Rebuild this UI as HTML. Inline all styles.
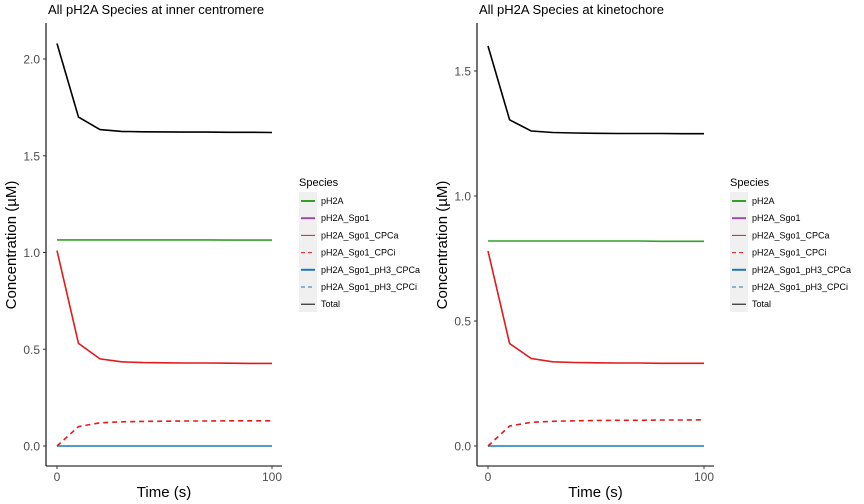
<!DOCTYPE html>
<html><head><meta charset="utf-8"><style>
body{margin:0;background:#fff;}
svg{display:block;font-family:"Liberation Sans",sans-serif;}
</style></head><body>
<svg id="c" width="864" height="504" xmlns="http://www.w3.org/2000/svg"></svg>
<script>
const times=[0,10,20,30,40,50,60,70,80,90,100];
const leftTotal=[2.08,1.70,1.635,1.626,1.624,1.623,1.622,1.622,1.621,1.621,1.62];
const leftCPCa=[1.01,0.53,0.45,0.435,0.431,0.430,0.429,0.429,0.428,0.427,0.427];
const leftCPCi=[0,0.10,0.12,0.125,0.127,0.128,0.129,0.129,0.130,0.130,0.130];
const leftPH2A=[1.065,1.065,1.065,1.065,1.065,1.065,1.065,1.065,1.064,1.064,1.064];
const leftPH3=[0,0,0,0,0,0,0,0,0,0,0];
const rightTotal=[1.60,1.305,1.26,1.254,1.252,1.251,1.25,1.25,1.25,1.249,1.249];
const rightCPCa=[0.78,0.41,0.35,0.337,0.334,0.333,0.332,0.332,0.331,0.331,0.331];
const rightCPCi=[0,0.08,0.095,0.099,0.101,0.102,0.103,0.103,0.104,0.104,0.105];
const rightPH2A=[0.82,0.82,0.82,0.82,0.82,0.82,0.82,0.82,0.819,0.819,0.819];
const rightPH3=[0,0,0,0,0,0,0,0,0,0,0];
const leftYTicks=[0,0.5,1.0,1.5,2.0];
const rightYTicks=[0,0.5,1.0,1.5];
const xTicks=[0,100];
const legendLabels=["pH2A","pH2A_Sgo1","pH2A_Sgo1_CPCa","pH2A_Sgo1_CPCi","pH2A_Sgo1_pH3_CPCa","pH2A_Sgo1_pH3_CPCi","Total"];
const NS="http://www.w3.org/2000/svg";
const svg=document.getElementById('c');
function el(t,a,p){const e=document.createElementNS(NS,t);for(const k in a)e.setAttribute(k,a[k]);(p||svg).appendChild(e);return e;}
function panel(o){
  const g=el('g',{});
  
  
  const xs=v=>o.x0+(v-0)/100*(o.x1-o.x0);
  const ys=v=>o.y0-v/o.yMax*(o.y0-o.yTop);
  const t=el('text',{x:o.ax+2,y:14,'font-size':13,fill:'#000'},g);t.textContent=o.title;
  
  const ya=el('line',{x1:o.ax,x2:o.ax,y1:23,y2:466,stroke:'#000','stroke-width':1.1},g);
  
  const xa=el('line',{x1:o.ax,x2:o.axEnd,y1:466,y2:466,stroke:'#000','stroke-width':1.1},g);
  
  o.yTicks.forEach(v=>{const y=ys(v);
    el('line',{x1:o.ax-3,x2:o.ax,y1:y,y2:y,stroke:'#333'},g);
    const l=el('text',{x:o.ax-6,y:y+4.5,'font-size':12,fill:'#4d4d4d','text-anchor':'end'},g);l.textContent=v.toFixed(1);
    });
  xTicks.forEach(v=>{const x=xs(v);
    el('line',{x1:x,x2:x,y1:466,y2:469,stroke:'#333'},g);
    const l=el('text',{x:x,y:481,'font-size':12,fill:'#4d4d4d','text-anchor':'middle'},g);l.textContent=v;
    });
  const xt=el('text',{x:(o.ax+o.axEnd)/2,y:497,'font-size':15,'text-anchor':'middle'},g);xt.textContent='Time (s)';
  
  const yt=el('text',{transform:`translate(${o.ax-30},245) rotate(-90)`,'font-size':15,'text-anchor':'middle'},g);yt.textContent='Concentration (µM)';
  
  o.series.forEach(s=>{
    const d=times.map((tt,i)=>(i?'L':'M')+xs(tt).toFixed(1)+','+ys(s.v[i]).toFixed(1)).join(' ');
    const p=el('path',{d:d,fill:'none',stroke:s.c,'stroke-width':1.6,'stroke-dasharray':s.dash||'none'},g);
    
  });
  // legend
  const lg=el('g',{},g);
  
  const lt=el('text',{x:o.lx,y:186,'font-size':11},lg);lt.textContent='Species';
  el('rect',{x:o.lx,y:192,width:18,height:120,fill:'#f0f0f0'},lg);
  const keys=[{c:'#33a02c',w:2},{c:'#984ea3',w:2},{c:'#e31a1c',w:1},{c:'#e31a1c',w:1,d:'4,3'},{c:'#1f78b4',w:2},{c:'#1f78b4',w:1,d:'4,3'},{c:'#000',w:1}];
  legendLabels.forEach((lab,i)=>{const y=201+i*17.2;
    el('line',{x1:o.lx+2,x2:o.lx+16,y1:y,y2:y,stroke:keys[i].c,'stroke-width':keys[i].w,'stroke-dasharray':keys[i].d||'none'},lg);
    const tx=el('text',{x:o.lx+22,y:y+3,'font-size':9},lg);tx.textContent=lab;
    });
}
panel({name:'left-panel',title:'All pH2A Species at inner centromere',ax:46,axEnd:282,x0:57,x1:272,y0:446,yTop:59,yMax:2.0,yTicks:leftYTicks,lx:299,
 series:[{n:'line-ph2a',v:leftPH2A,c:'#33a02c'},{n:'line-ph3-cpca',v:leftPH3,c:'#1f78b4'},{n:'line-cpca',v:leftCPCa,c:'#e31a1c'},{n:'line-cpci',v:leftCPCi,c:'#e31a1c',dash:'5,4'},{n:'line-total',v:leftTotal,c:'#000'}]});
panel({name:'right-panel',title:'All pH2A Species at kinetochore',ax:477,axEnd:714,x0:488,x1:704,y0:446,yTop:71,yMax:1.5,yTicks:rightYTicks,lx:730,
 series:[{n:'line-ph2a',v:rightPH2A,c:'#33a02c'},{n:'line-ph3-cpca',v:rightPH3,c:'#1f78b4'},{n:'line-cpca',v:rightCPCa,c:'#e31a1c'},{n:'line-cpci',v:rightCPCi,c:'#e31a1c',dash:'5,4'},{n:'line-total',v:rightTotal,c:'#000'}]});
</script>
</body></html>
